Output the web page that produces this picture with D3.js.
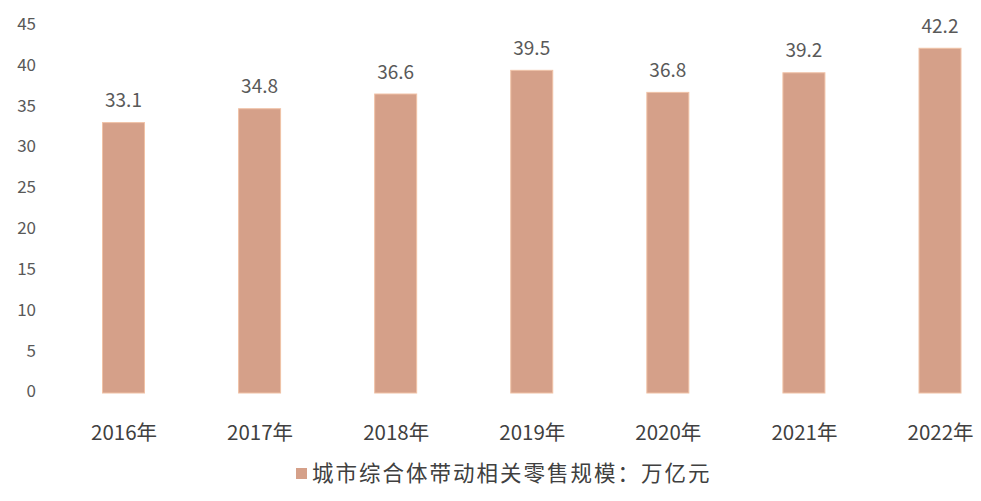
<!DOCTYPE html>
<html><head><meta charset="utf-8">
<script src="https://cdn.jsdelivr.net/npm/d3@7"></script>
<style>body{margin:0;background:#fff}svg{display:block}text{font-family:"Noto Sans CJK SC","Noto Sans",sans-serif}</style>
</head><body>
<svg id="c" width="981" height="501"></svg>
<script>
const categories = ["2016年","2017年","2018年","2019年","2020年","2021年","2022年"];
const values = [33.1, 34.8, 36.6, 39.5, 36.8, 39.2, 42.2];
const yTicks = [0,5,10,15,20,25,30,35,40,45];
const seriesName = "城市综合体带动相关零售规模：万亿元";

const svg = d3.select("#c");
const y = d3.scaleLinear().domain([0,45]).range([393,25.4]);
const x = d3.scalePoint().domain(categories).range([123.5,940]);
const bw = 42;

svg.append("g").attr("transform","translate(36,-1.5)")
  .call(d3.axisLeft(y).tickValues(yTicks).tickSize(0).tickPadding(0))
  .call(g=>g.select(".domain").remove())
  .call(g=>g.selectAll("text").attr("fill","#595959").style("font-size","17px"));

svg.append("g").selectAll("rect").data(values).join("rect")
  .attr("x",(d,i)=>x(categories[i])-bw/2).attr("width",bw)
  .attr("y",d=>y(d)).attr("height",d=>y(0)-y(d))
  .attr("fill","#d5a089").attr("stroke","#f0c2a6").attr("stroke-width",1);

svg.append("g").selectAll("text").data(values).join("text")
  .attr("x",(d,i)=>x(categories[i])).attr("y",d=>y(d)-15.5)
  .attr("text-anchor","middle").attr("fill","#595959").style("font-size","19px")
  .text(d=>d.toFixed(1));

svg.append("g").attr("transform","translate(0,0)")
  .call(d3.axisBottom(x).tickSize(0).tickPadding(0))
  .call(g=>g.select(".domain").remove())
  .call(g=>g.selectAll("text").attr("y",440).attr("dy",null).attr("fill","#404040").style("font-size","20.5px"));

const lg = svg.append("g");
lg.append("rect").attr("x",296).attr("y",468).attr("width",11).attr("height",11).attr("fill","#d5a089");
lg.append("text").attr("x",312).attr("y",481).attr("fill","#404040").style("font-size","21.5px").style("letter-spacing","2px").text(seriesName);
</script>
</body></html>
